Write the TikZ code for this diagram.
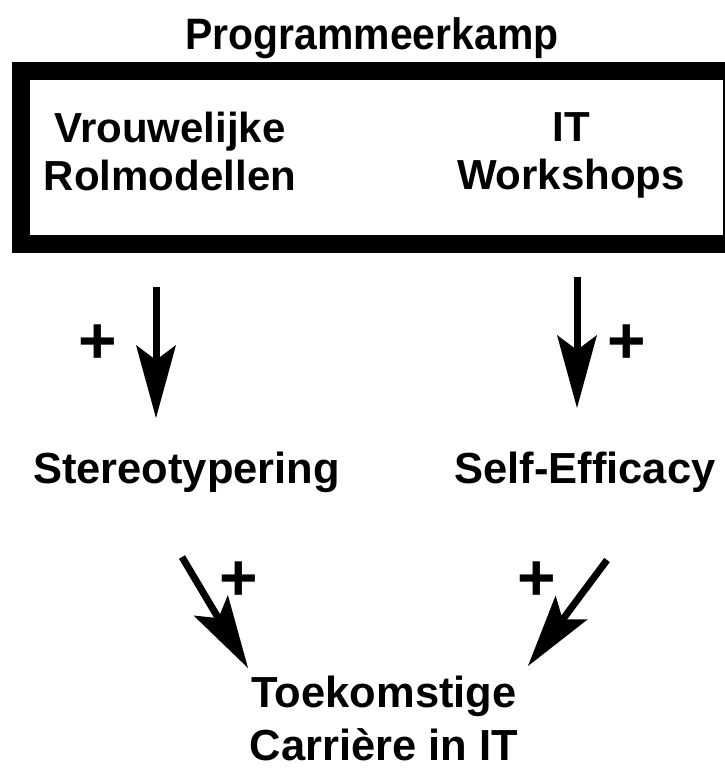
\documentclass[tikz,border=0pt]{standalone}
\usepackage{fontspec}
\setmainfont{Liberation Sans}
\newfontfamily\titlefont[FakeStretch=0.93]{Liberation Sans}
\usetikzlibrary{arrows.meta}
\begin{document}
\begin{tikzpicture}[x=1pt,y=-1pt,
  lbl/.style={font=\fontsize{42}{48}\selectfont\bfseries, inner sep=0pt, align=center},
  big/.style={font=\fontsize{43.5}{53}\selectfont\bfseries},
  plus/.style={font=\fontsize{66}{66}\selectfont\bfseries, inner sep=0pt},
  conn/.style={line width=7pt, -{Stealth[length=73pt,width=40pt,inset=15pt,line width=0pt]}},
  frame/.style={line width=18pt}]
\useasboundingbox (0,0) rectangle (725,771);
\fill[white] (0,0) rectangle (725,771);
% title and frame
\node[lbl, anchor=base, font=\titlefont\fontsize{44}{48}\selectfont\bfseries] (title) at (372,49) {Programmeerkamp};
\draw[frame] (20.5,71) rectangle (732,243.5);
\node[lbl] (rol) at (170,151) {Vrouwelijke\\Rolmodellen};
\node[lbl] (it) at (571,155.5) {IT\\Workshops};
% middle
\node[lbl, big, anchor=base] (stereo) at (186.5,483) {Stereotypering};
\node[lbl, big, anchor=base] (self) at (585,483) {Self-Efficacy};
% bottom
\node[lbl, big] (career) at (384,718) {Toekomstige\\Carrière in IT};
% arrow end points
\coordinate (a1s) at (156,287); \coordinate (a1e) at (156,418);
\coordinate (a2s) at (577,277); \coordinate (a2e) at (577,408);
\coordinate (a3s) at (182,557); \coordinate (a3e) at (248,668);
\coordinate (a4s) at (607,560); \coordinate (a4e) at (528,666);
\draw[conn] (a1s) -- (a1e);
\draw[conn] (a2s) -- (a2e);
\draw[conn] (a3s) -- (a3e);
\draw[conn] (a4s) -- (a4e);
% plus signs
\node[plus] (p1) at (98,344) {+};
\node[plus] (p2) at (627,344) {+};
\node[plus] (p3) at (239,581) {+};
\node[plus] (p4) at (537,581) {+};
\end{tikzpicture}
\end{document}
